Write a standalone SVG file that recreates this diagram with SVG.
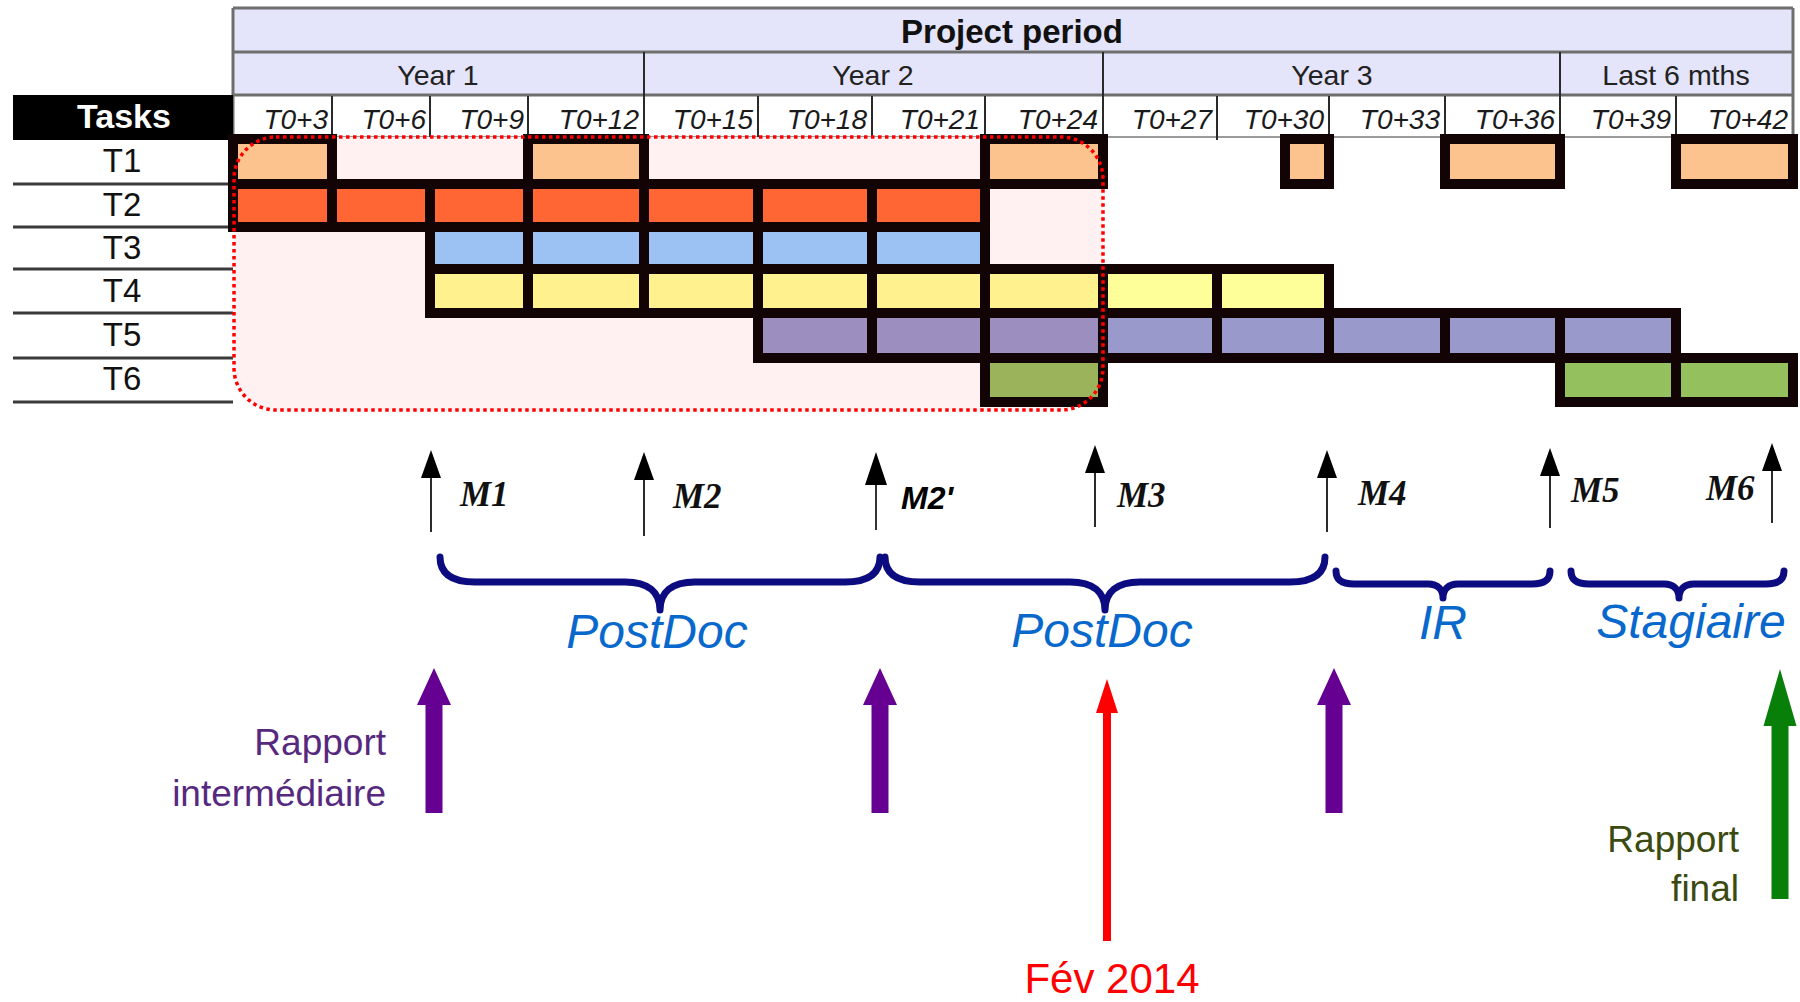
<svg xmlns="http://www.w3.org/2000/svg" width="1800" height="1002" viewBox="0 0 1800 1002">
<defs>
<style>
.sans{font-family:"Liberation Sans",Arial,sans-serif}
.hdr{fill:#e4e4fa}
.hline{stroke:#6e6e6e;stroke-width:3;fill:none}
.vsep{stroke:#2a2a2a;stroke-width:2}
.tl{font-family:"Liberation Sans",Arial,sans-serif;font-style:italic;font-size:28px;fill:#1a1a1a;text-anchor:end}
.yl{font-family:"Liberation Sans",Arial,sans-serif;font-size:28.5px;fill:#222;text-anchor:middle}
.task{font-family:"Liberation Sans",Arial,sans-serif;font-size:33px;fill:#111;text-anchor:middle}
.rsep{stroke:#3a3a3a;stroke-width:3}
.frame{fill:#120404}
.c1{fill:#fdc38f}.c2{fill:#ff6633}.c3{fill:#9cc2f4}.c4a{fill:#fff18d}.c4b{fill:#ffff99}
.c5a{fill:#9c8fc0}.c5b{fill:#9999cb}.c6a{fill:#9bb35a}.c6b{fill:#95c05e}
.ms{stroke:#2b2b2b;stroke-width:2;fill:none;marker-end:url(#ah)}
.mlab{font-family:"Liberation Serif","Times New Roman",serif;font-weight:bold;font-style:italic;font-size:35px;fill:#111}
.brace{fill:none;stroke:#0c0c80;stroke-width:7;stroke-linecap:round;stroke-linejoin:round}
.role{font-family:"Liberation Sans",Arial,sans-serif;font-style:italic;font-size:48px;fill:#0868cc;text-anchor:middle}
.purple{fill:#660092}
.rep1{font-family:"Liberation Sans",Arial,sans-serif;font-size:37px;fill:#56297f;text-anchor:end}
.rep2{font-family:"Liberation Sans",Arial,sans-serif;font-size:37px;fill:#3b4a10;text-anchor:end}
</style>
<marker id="ah" markerUnits="userSpaceOnUse" markerWidth="30" markerHeight="22" refX="18" refY="10" orient="auto" viewBox="0 0 30 22">
<path d="M0,0 L28,10 L0,20 z" fill="#000"/>
</marker>
<marker id="ah2" markerUnits="userSpaceOnUse" markerWidth="36" markerHeight="24" refX="22" refY="11" orient="auto" viewBox="0 0 36 24">
<path d="M0,0 L33,11 L0,22 z" fill="#000"/>
</marker>
</defs>
<rect width="1800" height="1002" fill="#fff"/>

<g id="header">
<rect class="hdr" x="233" y="8" width="1560" height="87"/>
<rect x="233" y="95" width="1560" height="42" fill="#fff"/>
<line class="hline" x1="233" y1="8" x2="1793" y2="8"/>
<line class="hline" x1="233" y1="52" x2="1793" y2="52"/>
<line class="hline" x1="233" y1="95" x2="1793" y2="95"/>
<line x1="233" y1="137" x2="1793" y2="137" stroke="#9a9a9a" stroke-width="2"/>
<line class="hline" x1="233" y1="8" x2="233" y2="137"/>
<line class="hline" x1="1793" y1="8" x2="1793" y2="137"/>
<text class="sans" x="1012" y="43" font-size="33" font-weight="bold" text-anchor="middle" fill="#111">Project period</text>
<line class="vsep" x1="644" y1="52" x2="644" y2="140"/>
<line class="vsep" x1="1103" y1="52" x2="1103" y2="140"/>
<line class="vsep" x1="1560" y1="52" x2="1560" y2="140"/>
<text class="yl" x="438" y="85">Year 1</text>
<text class="yl" x="873" y="85">Year 2</text>
<text class="yl" x="1332" y="85">Year 3</text>
<text class="yl" x="1676" y="85">Last 6 mths</text>
<line class="vsep" x1="332" y1="96" x2="332" y2="140"/>
<line class="vsep" x1="430" y1="96" x2="430" y2="140"/>
<line class="vsep" x1="528" y1="96" x2="528" y2="140"/>
<line class="vsep" x1="758" y1="96" x2="758" y2="140"/>
<line class="vsep" x1="872" y1="96" x2="872" y2="140"/>
<line class="vsep" x1="985" y1="96" x2="985" y2="140"/>
<line class="vsep" x1="1217" y1="96" x2="1217" y2="140"/>
<line class="vsep" x1="1329" y1="96" x2="1329" y2="140"/>
<line class="vsep" x1="1445" y1="96" x2="1445" y2="140"/>
<line class="vsep" x1="1676" y1="96" x2="1676" y2="140"/>
<text class="tl" x="328" y="129">T0+3</text>
<text class="tl" x="426" y="129">T0+6</text>
<text class="tl" x="524" y="129">T0+9</text>
<text class="tl" x="639" y="129">T0+12</text>
<text class="tl" x="753" y="129">T0+15</text>
<text class="tl" x="867" y="129">T0+18</text>
<text class="tl" x="980" y="129">T0+21</text>
<text class="tl" x="1098" y="129">T0+24</text>
<text class="tl" x="1212" y="129">T0+27</text>
<text class="tl" x="1324" y="129">T0+30</text>
<text class="tl" x="1440" y="129">T0+33</text>
<text class="tl" x="1555" y="129">T0+36</text>
<text class="tl" x="1671" y="129">T0+39</text>
<text class="tl" x="1788" y="129">T0+42</text>
</g>

<g id="tasks">
<rect x="13" y="95" width="220" height="45" fill="#000"/>
<text class="sans" x="124" y="128" font-size="34" font-weight="bold" text-anchor="middle" fill="#fff">Tasks</text>
<rect x="13" y="140" width="220" height="262" fill="#fff"/>
<line class="rsep" x1="13" y1="184" x2="233" y2="184"/>
<line class="rsep" x1="13" y1="227" x2="233" y2="227"/>
<line class="rsep" x1="13" y1="269" x2="233" y2="269"/>
<line class="rsep" x1="13" y1="313" x2="233" y2="313"/>
<line class="rsep" x1="13" y1="358" x2="233" y2="358"/>
<line class="rsep" x1="13" y1="402" x2="233" y2="402"/>
<text class="task" x="122" y="172">T1</text>
<text class="task" x="122" y="216">T2</text>
<text class="task" x="122" y="259">T3</text>
<text class="task" x="122" y="302">T4</text>
<text class="task" x="122" y="346">T5</text>
<text class="task" x="122" y="390">T6</text>
</g>

<g id="period-zone-fill">
<rect x="234" y="137" width="869" height="273" rx="42" ry="42" fill="#fff1f1"/>
</g>

<g id="bars">
<g id="T1-bar">
<rect class="frame" x="228" y="134" width="109" height="55"/>
<rect class="frame" x="523" y="134" width="126" height="55"/>
<rect class="frame" x="980" y="134" width="128" height="55"/>
<rect class="frame" x="1280" y="134" width="54" height="55"/>
<rect class="frame" x="1440" y="134" width="125" height="55"/>
<rect class="frame" x="1671" y="134" width="127" height="55"/>
</g>
<g id="T2-bar"><rect class="frame" x="228" y="179" width="762" height="53"/></g>
<g id="T3-bar"><rect class="frame" x="425" y="222" width="565" height="52"/></g>
<g id="T4-bar"><rect class="frame" x="425" y="264" width="909" height="54"/></g>
<g id="T5-bar"><rect class="frame" x="753" y="308" width="928" height="55"/></g>
<g id="T6-bar">
<rect class="frame" x="980" y="353" width="128" height="54"/>
<rect class="frame" x="1555" y="353" width="243" height="54"/>
</g>
<g id="cells">
<rect class="c1" x="238" y="144" width="89" height="35"/>
<rect class="c1" x="533" y="144" width="106" height="35"/>
<rect class="c1" x="990" y="144" width="108" height="35"/>
<rect class="c1" x="1290" y="144" width="34" height="35"/>
<rect class="c1" x="1450" y="144" width="105" height="35"/>
<rect class="c1" x="1681" y="144" width="107" height="35"/>

<rect class="c2" x="238" y="189" width="89" height="33"/>
<rect class="c2" x="337" y="189" width="88" height="33"/>
<rect class="c2" x="435" y="189" width="88" height="33"/>
<rect class="c2" x="533" y="189" width="106" height="33"/>
<rect class="c2" x="649" y="189" width="104" height="33"/>
<rect class="c2" x="763" y="189" width="104" height="33"/>
<rect class="c2" x="877" y="189" width="103" height="33"/>

<rect class="c3" x="435" y="232" width="88" height="32"/>
<rect class="c3" x="533" y="232" width="106" height="32"/>
<rect class="c3" x="649" y="232" width="104" height="32"/>
<rect class="c3" x="763" y="232" width="104" height="32"/>
<rect class="c3" x="877" y="232" width="103" height="32"/>

<rect class="c4a" x="435" y="274" width="88" height="34"/>
<rect class="c4a" x="533" y="274" width="106" height="34"/>
<rect class="c4a" x="649" y="274" width="104" height="34"/>
<rect class="c4a" x="763" y="274" width="104" height="34"/>
<rect class="c4a" x="877" y="274" width="103" height="34"/>
<rect class="c4a" x="990" y="274" width="108" height="34"/>
<rect class="c4b" x="1108" y="274" width="104" height="34"/>
<rect class="c4b" x="1222" y="274" width="102" height="34"/>

<rect class="c5a" x="763" y="318" width="104" height="35"/>
<rect class="c5a" x="877" y="318" width="103" height="35"/>
<rect class="c5a" x="990" y="318" width="108" height="35"/>
<rect class="c5b" x="1108" y="318" width="104" height="35"/>
<rect class="c5b" x="1222" y="318" width="102" height="35"/>
<rect class="c5b" x="1334" y="318" width="106" height="35"/>
<rect class="c5b" x="1450" y="318" width="105" height="35"/>
<rect class="c5b" x="1565" y="318" width="106" height="35"/>

<rect class="c6a" x="990" y="363" width="108" height="34"/>
<rect class="c6b" x="1565" y="363" width="106" height="34"/>
<rect class="c6b" x="1681" y="363" width="107" height="34"/>
</g>
</g>

<g id="period-zone">
<rect x="234" y="137" width="869" height="273" rx="42" ry="42" fill="none" stroke="#ff0000" stroke-width="3.5" stroke-dasharray="3.5 3.5"/>
</g>

<g id="connectors">
<line class="ms" x1="431" y1="532" x2="431" y2="460"/>
<line class="ms" x1="644" y1="536" x2="644" y2="462"/>
<line x1="876" y1="530" x2="876" y2="463" stroke="#000" stroke-width="1.6" marker-end="url(#ah2)"/>
<line class="ms" x1="1095" y1="527" x2="1095" y2="455"/>
<line class="ms" x1="1327" y1="532" x2="1327" y2="460"/>
<line class="ms" x1="1550" y1="528" x2="1550" y2="458"/>
<line class="ms" x1="1772" y1="523" x2="1772" y2="453"/>
<polygon class="purple" points="434,668 451,705 442.5,705 442.5,813 425.5,813 425.5,705 417,705"/>
<polygon class="purple" points="880,668 897,705 888.5,705 888.5,813 871.5,813 871.5,705 863,705"/>
<polygon class="purple" points="1334,668 1351,705 1342.5,705 1342.5,813 1325.5,813 1325.5,705 1317,705"/>
<polygon fill="#ff0000" points="1107,679 1118,713 1111,713 1111,941 1103,941 1103,713 1096,713"/>
<polygon fill="#087f08" points="1780,669 1796.5,726 1788.5,726 1788.5,899 1771.5,899 1771.5,726 1763.5,726"/>
</g>

<g id="milestones">
<text class="mlab" x="460" y="506">M1</text>
<text class="mlab" x="673" y="508">M2</text>
<text class="sans" x="901" y="509" font-size="32" font-weight="bold" font-style="italic" fill="#000">M2'</text>
<text class="mlab" x="1117" y="507">M3</text>
<text class="mlab" x="1358" y="505">M4</text>
<text class="mlab" x="1571" y="502">M5</text>
<text class="mlab" x="1706" y="500">M6</text>
</g>

<g id="braces">
<path class="brace" d="M440,557 C440,574 452,582 475,582 L625,582 C648,582 660,592 660,610 C660,592 672,582 695,582 L845,582 C868,582 880,574 880,557"/>
<path class="brace" d="M885,557 C885,574 897,582 920,582 L1070,582 C1093,582 1105,592 1105,610 C1105,592 1117,582 1140,582 L1290,582 C1313,582 1325,574 1325,557"/>
<path class="brace" d="M1336,571 C1336,580 1342,584 1354,584 L1428,584 C1438,584 1443,590 1443,598 C1443,590 1448,584 1458,584 L1532,584 C1544,584 1550,580 1550,571"/>
<path class="brace" d="M1571,571 C1571,580 1577,584 1589,584 L1664,584 C1674,584 1679,590 1679,598 C1679,590 1684,584 1694,584 L1766,584 C1778,584 1784,580 1784,571"/>
</g>

<g id="roles">
<text class="role" x="657" y="648">PostDoc</text>
<text class="role" x="1102" y="647">PostDoc</text>
<text class="role" x="1443" y="639">IR</text>
<text class="role" x="1691" y="638">Stagiaire</text>
</g>

<g id="reports">
<text class="rep1" x="386" y="755">Rapport</text>
<text class="rep1" x="386" y="806">intermédiaire</text>
<text class="sans" x="1112" y="993" font-size="42" text-anchor="middle" fill="#ff0000">Fév 2014</text>
<text class="rep2" x="1739" y="852">Rapport</text>
<text class="rep2" x="1739" y="901">final</text>
</g>
</svg>
